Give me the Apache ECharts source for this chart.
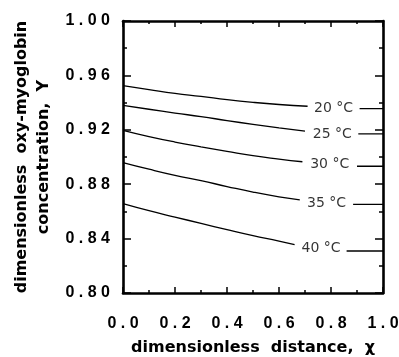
<!DOCTYPE html>
<html>
<head>
<meta charset="utf-8">
<script src="https://cdn.jsdelivr.net/npm/echarts@6/dist/echarts.min.js"></script>
<style>
  html, body { margin: 0; padding: 0; background: #fff; }
  #chart { width: 399px; height: 357px; }
</style>
</head>
<body>
<div id="chart"></div>
<script>
// curve values
const temps = ['20 °C', '25 °C', '30 °C', '35 °C', '40 °C'];
const chiGrid = [0, 0.1, 0.2, 0.3, 0.4, 0.5, 0.6];
const y20 = [0.9525, 0.9496, 0.9468, 0.9446, 0.9422, 0.9402, 0.9386];
const y25 = [0.9380, 0.9351, 0.9323, 0.9297, 0.9268, 0.9240, 0.9214];
const y30 = [0.9196, 0.9150, 0.9110, 0.9075, 0.9042, 0.9010, 0.8985];
const y35 = [0.8959, 0.8910, 0.8865, 0.8826, 0.8783, 0.8742, 0.8707];
const y40 = [0.8657, 0.8605, 0.8558, 0.8512, 0.8466, 0.8422, 0.8382];
// where each curve stops before its label
const gapX = [0.71, 0.70, 0.69, 0.68, 0.66];
const gapY = [0.9373, 0.9190, 0.8965, 0.8685, 0.8355];
// short piece after the label, out to chi = 1
const tailX = [0.91, 0.905, 0.90, 0.885, 0.86];
const tailY = [0.9356, 0.9170, 0.8932, 0.8652, 0.8309];
// label anchor points
const labelX = [0.81, 0.805, 0.795, 0.783, 0.762];
const labelY = [0.9358, 0.9170, 0.8946, 0.8662, 0.8330];

const curves = [y20, y25, y30, y35, y40];

const chart = echarts.init(document.getElementById('chart'));

const spaced = (s) => s.split('').join(' ');
const tickFont = { fontFamily: 'Liberation Sans', fontWeight: 'bold', fontSize: 16, color: '#000' };
const frame = { show: true, onZero: false, lineStyle: { color: '#000', width: 2.6 } };

const series = [];
curves.forEach((ys, i) => {
  const main = chiGrid.map((x, j) => [x, ys[j]]);
  main.push([gapX[i], gapY[i]]);
  series.push({
    name: temps[i],
    type: 'line',
    data: main,
    smooth: true,
    symbol: 'none',
    lineStyle: { color: '#000', width: 1.3 }
  });
  series.push({
    name: temps[i] + ' tail',
    type: 'line',
    data: [[tailX[i], tailY[i]], [1, tailY[i]]],
    symbol: 'none',
    lineStyle: { color: '#000', width: 1.3 }
  });
});

series.push({
  name: 'labels',
  type: 'scatter',
  symbolSize: 0,
  data: labelX.map((x, i) => ({ value: [x, labelY[i]], name: temps[i] })),
  label: {
    show: true,
    position: 'inside',
    formatter: (p) => p.name,
    fontFamily: 'DejaVu Sans',
    fontSize: 14,
    color: '#000'
  }
});

const option = {
  backgroundColor: '#fff',
  animation: false,
  grid: { left: 123, right: 16, top: 21, bottom: 64, outerBoundsMode: 'none', containLabel: false },
  xAxis: [
    {
      type: 'value',
      position: 'bottom',
      min: 0,
      max: 1,
      interval: 0.2,
      axisLine: frame,
      axisTick: { show: true, inside: true, length: 6, lineStyle: { color: '#000', width: 1.5 } },
      minorTick: { show: true, splitNumber: 2, length: 3, lineStyle: { color: '#000', width: 1.5 } },
      splitLine: { show: false },
      axisLabel: Object.assign({ margin: 23, formatter: (v) => spaced(v.toFixed(1)) }, tickFont),
      name: 'dimensionless  distance,  χ',
      nameLocation: 'middle',
      nameGap: 47,
      nameTextStyle: { fontFamily: 'DejaVu Sans', fontWeight: 'bold', fontSize: 16, color: '#000' }
    },
    {
      type: 'value',
      position: 'top',
      min: 0,
      max: 1,
      interval: 0.2,
      axisLine: frame,
      axisTick: { show: true, inside: true, length: 6, lineStyle: { color: '#000', width: 1.5 } },
      minorTick: { show: true, splitNumber: 2, length: 3, lineStyle: { color: '#000', width: 1.5 } },
      splitLine: { show: false },
      axisLabel: { show: false }
    }
  ],
  yAxis: [
    {
      type: 'value',
      position: 'left',
      min: 0.8,
      max: 1.0,
      interval: 0.04,
      axisLine: frame,
      axisTick: { show: true, inside: true, length: 8, lineStyle: { color: '#000', width: 1.5 } },
      minorTick: { show: true, splitNumber: 2, length: 4, lineStyle: { color: '#000', width: 1.5 } },
      splitLine: { show: false },
      axisLabel: Object.assign({ margin: 13, formatter: (v) => spaced(v.toFixed(2)) }, tickFont),
      name: 'dimensionless  oxy-myoglobin\nconcentration,  Y',
      nameLocation: 'middle',
      nameGap: 60,
      nameTextStyle: { fontFamily: 'DejaVu Sans', fontWeight: 'bold', fontSize: 16, lineHeight: 22, color: '#000', align: 'center' }
    },
    {
      type: 'value',
      position: 'right',
      min: 0.8,
      max: 1.0,
      interval: 0.04,
      axisLine: frame,
      axisTick: { show: true, inside: true, length: 8, lineStyle: { color: '#000', width: 1.5 } },
      minorTick: { show: true, splitNumber: 2, length: 4, lineStyle: { color: '#000', width: 1.5 } },
      splitLine: { show: false },
      axisLabel: { show: false }
    }
  ],
  series: series
};

chart.setOption(option);
</script>
</body>
</html>
